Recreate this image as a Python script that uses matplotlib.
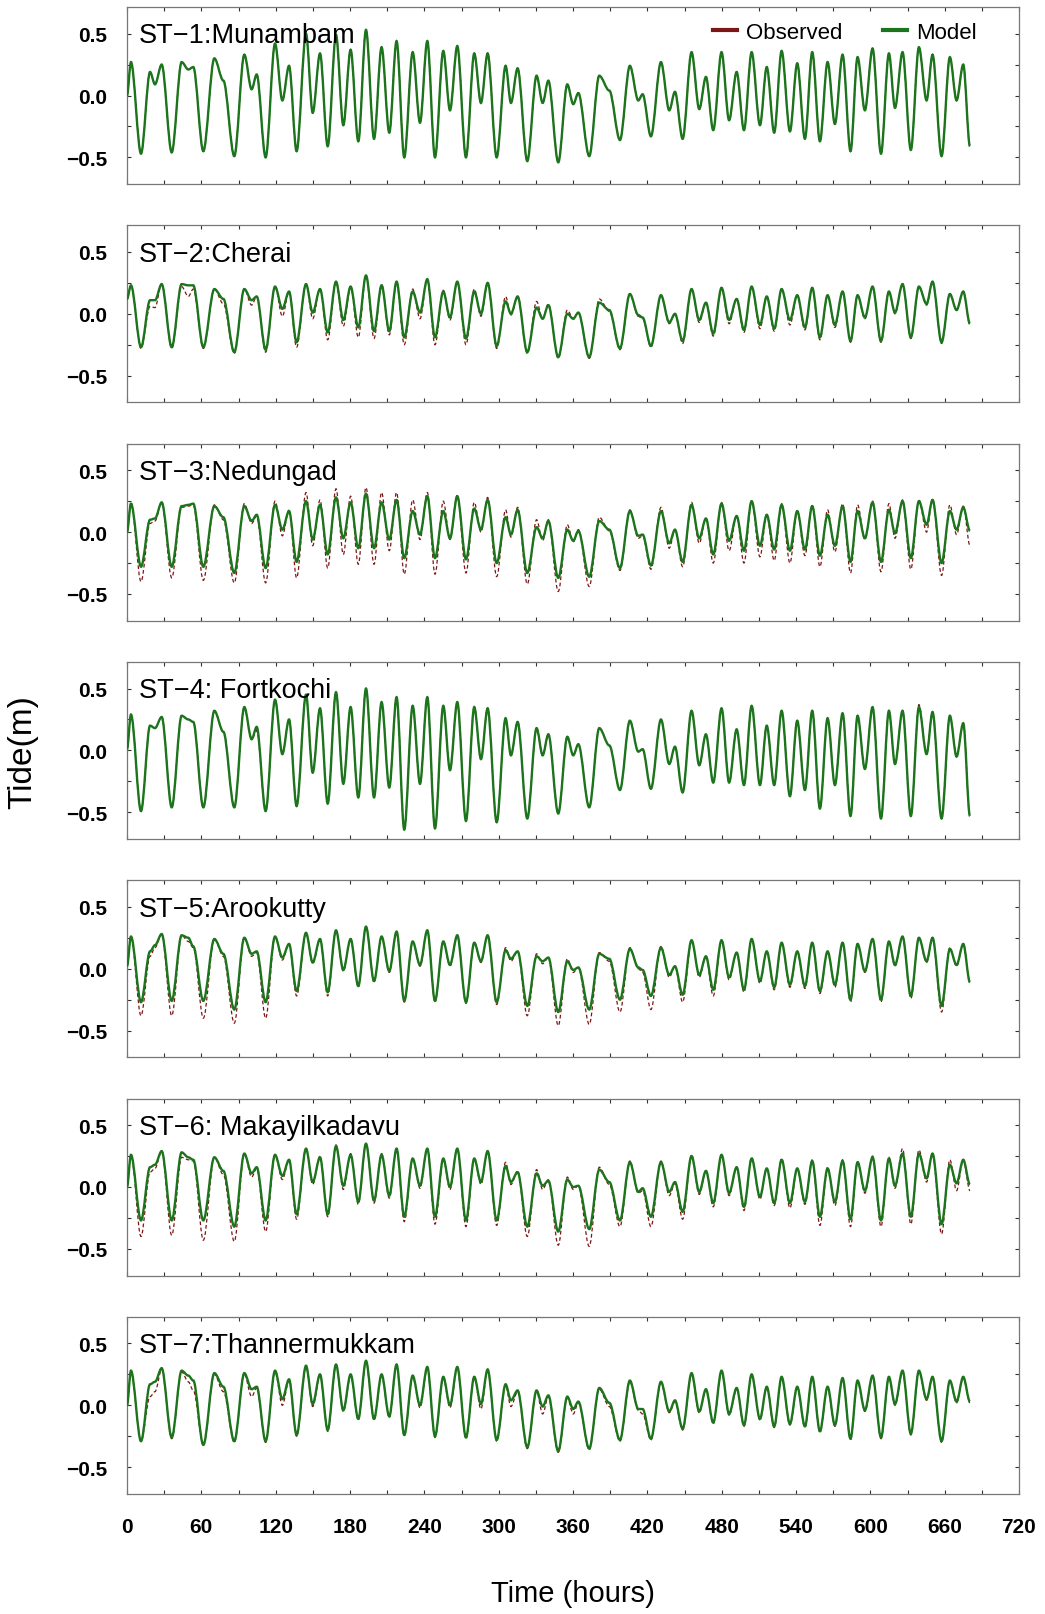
import matplotlib
matplotlib.use("Agg")
import matplotlib.pyplot as plt
from matplotlib.path import Path
from matplotlib.patches import PathPatch
from matplotlib.lines import Line2D
from matplotlib.ticker import MultipleLocator

plt.rcParams['font.family'] = ['Liberation Sans', 'DejaVu Sans']

# --- data: hours of the turning points of the tide curve (shared by all stations) ---
event_hours = [0.0, 3.2, 11.3, 18.6, 22.6, 28.0, 36.1, 44.1, 49.5, 53.5,
               61.6, 70.5, 77.8, 86.6, 94.7, 100.6, 104.7, 111.9, 119.5, 125.4,
               130.8, 136.9, 144.5, 149.9, 155.8, 162.0, 168.7, 174.6, 180.5, 186.7,
               192.9, 199.4, 205.5, 211.7, 217.6, 223.8, 230.6, 236.5, 242.4, 248.6,
               255.3, 260.7, 266.6, 273.6, 280.3, 285.7, 291.1, 298.4, 305.6, 309.9,
               315.3, 323.1, 330.6, 335.5, 340.1, 348.1, 355.4, 360.2, 364.3, 373.1,
               381.2, 389.3, 397.9, 405.9, 412.7, 416.2, 422.9, 431.0, 437.7, 442.3,
               448.5, 455.7, 461.9, 467.3, 473.2, 479.9, 486.0, 492.1, 498.0, 504.2,
               510.9, 516.4, 522.4, 528.4, 535.1, 541.0, 547.2, 553.1, 559.3, 565.5,
               571.4, 577.6, 584.0, 589.7, 595.6, 601.8, 608.6, 615.0, 619.9, 626.0,
               632.7, 639.2, 645.4, 650.2, 657.5, 664.2, 669.6, 675.0, 680.4]

stations = ["ST\u22121:Munambam", "ST\u22122:Cherai", "ST\u22123:Nedungad",
            "ST\u22124: Fortkochi", "ST\u22125:Arookutty", "ST\u22126: Makayilkadavu",
            "ST\u22127:Thannermukkam"]

st1_model = [0.00, 0.27, -0.47, 0.19, 0.09, 0.25, -0.46, 0.27, 0.21, 0.23,
             -0.45, 0.30, 0.12, -0.49, 0.33, 0.05, 0.17, -0.50, 0.42, -0.04,
             0.24, -0.45, 0.50, -0.14, 0.34, -0.41, 0.49, -0.24, 0.37, -0.37,
             0.53, -0.35, 0.39, -0.30, 0.44, -0.50, 0.35, -0.22, 0.44, -0.50,
             0.36, -0.12, 0.40, -0.50, 0.34, -0.06, 0.34, -0.50, 0.24, -0.06,
             0.22, -0.53, 0.16, -0.06, 0.12, -0.54, 0.09, -0.07, 0.02, -0.49,
             0.16, 0.04, -0.36, 0.24, -0.04, 0.01, -0.33, 0.27, -0.12, 0.03,
             -0.35, 0.35, -0.11, 0.15, -0.28, 0.35, -0.20, 0.19, -0.28, 0.35,
             -0.24, 0.23, -0.30, 0.36, -0.29, 0.26, -0.35, 0.35, -0.37, 0.27,
             -0.23, 0.33, -0.45, 0.31, -0.12, 0.38, -0.47, 0.34, -0.10, 0.35,
             -0.44, 0.39, -0.04, 0.33, -0.49, 0.31, -0.04, 0.25, -0.41]
st1_obs = list(st1_model)

st2_model = [0.12, 0.23, -0.27, 0.11, 0.11, 0.24, -0.27, 0.24, 0.23, 0.23,
             -0.27, 0.20, 0.12, -0.31, 0.20, 0.11, 0.14, -0.29, 0.22, 0.04,
             0.18, -0.23, 0.24, 0.01, 0.20, -0.15, 0.26, -0.05, 0.22, -0.11,
             0.31, -0.14, 0.23, -0.14, 0.26, -0.19, 0.18, 0.01, 0.28, -0.19,
             0.18, -0.03, 0.26, -0.20, 0.18, 0.00, 0.25, -0.26, 0.10, 0.00,
             0.14, -0.31, 0.05, -0.04, 0.07, -0.35, 0.00, -0.04, 0.01, -0.35,
             0.09, 0.03, -0.28, 0.16, -0.01, -0.03, -0.26, 0.15, -0.07, 0.00,
             -0.22, 0.20, -0.05, 0.09, -0.16, 0.21, -0.05, 0.12, -0.13, 0.22,
             -0.09, 0.14, -0.12, 0.20, -0.05, 0.15, -0.11, 0.21, -0.19, 0.15,
             -0.09, 0.18, -0.22, 0.15, -0.03, 0.22, -0.22, 0.18, 0.01, 0.24,
             -0.19, 0.22, 0.08, 0.26, -0.23, 0.16, 0.03, 0.18, -0.08]
st2_obs = [0.12, 0.23, -0.28, 0.06, 0.05, 0.24, -0.28, 0.22, 0.14, 0.20,
           -0.28, 0.20, 0.08, -0.32, 0.20, 0.07, 0.14, -0.31, 0.22, -0.02,
           0.18, -0.27, 0.24, -0.04, 0.20, -0.21, 0.26, -0.10, 0.22, -0.19,
           0.31, -0.20, 0.24, -0.17, 0.26, -0.25, 0.20, -0.04, 0.28, -0.25,
           0.19, -0.05, 0.26, -0.25, 0.20, -0.02, 0.25, -0.28, 0.14, -0.01,
           0.14, -0.32, 0.10, -0.04, 0.08, -0.36, 0.03, -0.04, 0.01, -0.36,
           0.12, 0.02, -0.29, 0.16, -0.02, -0.04, -0.27, 0.15, -0.08, 0.00,
           -0.24, 0.20, -0.07, 0.09, -0.18, 0.21, -0.08, 0.12, -0.15, 0.22,
           -0.12, 0.14, -0.14, 0.20, -0.09, 0.15, -0.13, 0.21, -0.21, 0.15,
           -0.11, 0.18, -0.23, 0.15, -0.04, 0.22, -0.23, 0.18, 0.00, 0.24,
           -0.20, 0.22, 0.07, 0.26, -0.24, 0.16, 0.03, 0.18, -0.09]

st3_model = [0.00, 0.23, -0.28, 0.10, 0.11, 0.24, -0.28, 0.21, 0.22, 0.23,
             -0.28, 0.21, 0.12, -0.33, 0.21, 0.09, 0.14, -0.29, 0.22, 0.02,
             0.17, -0.24, 0.25, -0.06, 0.22, -0.18, 0.28, -0.05, 0.24, -0.13,
             0.31, -0.13, 0.24, -0.06, 0.26, -0.21, 0.17, -0.02, 0.29, -0.21,
             0.17, -0.05, 0.29, -0.22, 0.19, 0.02, 0.26, -0.25, 0.12, -0.02,
             0.18, -0.33, 0.04, -0.05, 0.09, -0.37, 0.02, -0.07, 0.01, -0.36,
             0.09, 0.02, -0.29, 0.17, -0.03, -0.02, -0.27, 0.17, -0.09, 0.02,
             -0.24, 0.22, -0.05, 0.11, -0.18, 0.23, -0.07, 0.13, -0.15, 0.25,
             -0.11, 0.14, -0.14, 0.22, -0.15, 0.17, -0.14, 0.21, -0.19, 0.14,
             -0.11, 0.21, -0.24, 0.17, -0.05, 0.24, -0.24, 0.18, -0.01, 0.25,
             -0.21, 0.25, 0.06, 0.26, -0.25, 0.17, 0.02, 0.20, 0.01]
st3_obs = [0.00, 0.24, -0.40, 0.07, 0.09, 0.24, -0.37, 0.20, 0.21, 0.22,
           -0.39, 0.22, 0.10, -0.41, 0.23, 0.07, 0.13, -0.41, 0.25, -0.03,
           0.18, -0.37, 0.32, -0.11, 0.26, -0.29, 0.35, -0.18, 0.29, -0.26,
           0.36, -0.26, 0.32, -0.15, 0.32, -0.34, 0.26, -0.06, 0.32, -0.34,
           0.25, -0.06, 0.30, -0.33, 0.24, 0.00, 0.28, -0.36, 0.18, -0.04,
           0.20, -0.42, 0.10, -0.07, 0.10, -0.48, 0.06, -0.08, 0.02, -0.44,
           0.12, 0.01, -0.31, 0.18, -0.05, -0.03, -0.30, 0.20, -0.13, 0.02,
           -0.28, 0.24, -0.09, 0.11, -0.25, 0.24, -0.15, 0.13, -0.25, 0.25,
           -0.20, 0.14, -0.23, 0.23, -0.25, 0.17, -0.19, 0.22, -0.28, 0.18,
           -0.16, 0.23, -0.33, 0.22, -0.06, 0.25, -0.32, 0.23, -0.05, 0.26,
           -0.30, 0.26, 0.00, 0.27, -0.35, 0.22, -0.02, 0.21, -0.11]

st4_model = [0.01, 0.29, -0.49, 0.20, 0.18, 0.27, -0.46, 0.28, 0.25, 0.23,
             -0.46, 0.32, 0.15, -0.46, 0.35, 0.09, 0.19, -0.49, 0.41, -0.03,
             0.25, -0.45, 0.45, -0.18, 0.34, -0.43, 0.47, -0.27, 0.35, -0.38,
             0.50, -0.38, 0.39, -0.30, 0.43, -0.64, 0.36, -0.27, 0.43, -0.63,
             0.36, -0.16, 0.39, -0.57, 0.35, -0.07, 0.34, -0.58, 0.26, -0.04,
             0.23, -0.55, 0.18, -0.04, 0.13, -0.51, 0.11, -0.04, 0.05, -0.46,
             0.18, 0.04, -0.32, 0.24, -0.01, 0.01, -0.31, 0.25, -0.11, 0.03,
             -0.34, 0.32, -0.12, 0.13, -0.26, 0.34, -0.26, 0.17, -0.28, 0.36,
             -0.28, 0.20, -0.28, 0.32, -0.37, 0.24, -0.32, 0.32, -0.47, 0.26,
             -0.28, 0.30, -0.53, 0.28, -0.15, 0.35, -0.55, 0.32, -0.11, 0.32,
             -0.53, 0.35, -0.03, 0.31, -0.55, 0.28, -0.05, 0.22, -0.53]
st4_obs = list(st4_model)
st4_obs[16] = 0.16
st4_obs[101] = 0.37

st5_model = [0.02, 0.26, -0.27, 0.14, 0.19, 0.28, -0.26, 0.27, 0.25, 0.18,
             -0.26, 0.24, 0.12, -0.33, 0.25, 0.12, 0.14, -0.27, 0.26, 0.09,
             0.20, -0.18, 0.29, 0.05, 0.24, -0.19, 0.31, -0.01, 0.24, -0.14,
             0.34, -0.10, 0.26, -0.02, 0.30, -0.26, 0.22, 0.03, 0.31, -0.26,
             0.22, 0.03, 0.27, -0.27, 0.21, 0.06, 0.27, -0.27, 0.15, 0.08,
             0.14, -0.30, 0.10, 0.06, 0.09, -0.35, 0.06, -0.01, 0.01, -0.33,
             0.12, 0.08, -0.25, 0.16, 0.01, -0.01, -0.22, 0.17, -0.05, 0.02,
             -0.21, 0.23, -0.05, 0.10, -0.17, 0.23, -0.07, 0.13, -0.17, 0.24,
             -0.10, 0.14, -0.15, 0.21, -0.13, 0.14, -0.14, 0.21, -0.18, 0.14,
             -0.13, 0.21, -0.25, 0.20, -0.02, 0.24, -0.25, 0.22, 0.03, 0.26,
             -0.22, 0.25, 0.06, 0.25, -0.30, 0.16, 0.03, 0.20, -0.11]
st5_obs = [0.02, 0.26, -0.38, 0.10, 0.17, 0.28, -0.38, 0.27, 0.22, 0.17,
           -0.40, 0.24, 0.10, -0.44, 0.25, 0.10, 0.13, -0.40, 0.26, 0.07,
           0.20, -0.22, 0.29, 0.04, 0.24, -0.22, 0.31, -0.02, 0.24, -0.15,
           0.34, -0.11, 0.26, -0.03, 0.30, -0.27, 0.22, 0.02, 0.31, -0.27,
           0.22, 0.02, 0.27, -0.28, 0.21, 0.05, 0.27, -0.29, 0.17, 0.06,
           0.14, -0.38, 0.12, 0.04, 0.09, -0.46, 0.08, -0.03, 0.01, -0.45,
           0.13, 0.06, -0.35, 0.17, 0.00, -0.03, -0.33, 0.18, -0.07, 0.02,
           -0.27, 0.23, -0.07, 0.10, -0.22, 0.23, -0.09, 0.13, -0.19, 0.24,
           -0.12, 0.14, -0.17, 0.21, -0.15, 0.14, -0.16, 0.21, -0.20, 0.14,
           -0.15, 0.21, -0.27, 0.20, -0.03, 0.24, -0.27, 0.22, 0.02, 0.26,
           -0.24, 0.25, 0.05, 0.25, -0.35, 0.17, 0.02, 0.20, -0.10]

st6_model = [0.00, 0.26, -0.27, 0.16, 0.18, 0.29, -0.27, 0.28, 0.24, 0.22,
             -0.27, 0.24, 0.13, -0.32, 0.27, 0.11, 0.16, -0.27, 0.26, 0.09,
             0.22, -0.22, 0.31, 0.04, 0.24, -0.22, 0.33, 0.01, 0.26, -0.12,
             0.35, -0.11, 0.26, -0.07, 0.31, -0.24, 0.23, 0.01, 0.31, -0.24,
             0.23, 0.00, 0.31, -0.27, 0.23, 0.04, 0.29, -0.27, 0.17, 0.04,
             0.12, -0.32, 0.11, 0.01, 0.05, -0.36, 0.06, 0.00, 0.01, -0.34,
             0.14, 0.04, -0.27, 0.20, -0.04, -0.01, -0.24, 0.20, -0.04, 0.04,
             -0.20, 0.25, -0.04, 0.13, -0.13, 0.26, -0.05, 0.16, -0.16, 0.23,
             -0.08, 0.15, -0.13, 0.22, -0.13, 0.15, -0.12, 0.21, -0.24, 0.15,
             -0.12, 0.21, -0.26, 0.20, -0.03, 0.24, -0.27, 0.23, 0.01, 0.27,
             -0.24, 0.27, 0.07, 0.27, -0.30, 0.18, 0.03, 0.22, 0.02]
st6_obs = [0.00, 0.26, -0.40, 0.12, 0.15, 0.29, -0.39, 0.24, 0.22, 0.21,
           -0.43, 0.24, 0.10, -0.44, 0.27, 0.08, 0.15, -0.36, 0.26, 0.06,
           0.22, -0.26, 0.31, 0.02, 0.25, -0.24, 0.34, -0.02, 0.27, -0.14,
           0.35, -0.13, 0.27, -0.09, 0.31, -0.28, 0.23, -0.01, 0.31, -0.30,
           0.23, -0.02, 0.31, -0.32, 0.23, 0.02, 0.29, -0.31, 0.20, 0.02,
           0.13, -0.40, 0.14, -0.02, 0.06, -0.47, 0.08, -0.02, 0.01, -0.48,
           0.16, 0.02, -0.32, 0.21, -0.05, -0.03, -0.32, 0.21, -0.07, 0.03,
           -0.26, 0.26, -0.06, 0.13, -0.16, 0.26, -0.07, 0.16, -0.19, 0.24,
           -0.10, 0.15, -0.15, 0.23, -0.17, 0.15, -0.14, 0.22, -0.31, 0.16,
           -0.15, 0.22, -0.32, 0.21, -0.05, 0.25, -0.32, 0.24, -0.01, 0.31,
           -0.30, 0.30, 0.04, 0.27, -0.38, 0.22, -0.03, 0.22, -0.03]

st7_model = [0.00, 0.28, -0.29, 0.17, 0.19, 0.30, -0.26, 0.28, 0.24, 0.20,
             -0.32, 0.26, 0.15, -0.29, 0.26, 0.13, 0.15, -0.29, 0.28, 0.05,
             0.21, -0.24, 0.32, 0.01, 0.25, -0.20, 0.33, -0.04, 0.25, -0.11,
             0.36, -0.11, 0.25, -0.09, 0.33, -0.24, 0.24, 0.00, 0.31, -0.25,
             0.23, 0.00, 0.31, -0.26, 0.23, 0.01, 0.29, -0.28, 0.17, 0.04,
             0.12, -0.34, 0.12, -0.01, 0.08, -0.37, 0.07, -0.03, 0.03, -0.35,
             0.14, 0.02, -0.28, 0.20, -0.03, -0.03, -0.27, 0.19, -0.05, 0.04,
             -0.19, 0.26, -0.05, 0.13, -0.14, 0.28, -0.07, 0.14, -0.16, 0.25,
             -0.11, 0.15, -0.17, 0.23, -0.15, 0.15, -0.17, 0.23, -0.21, 0.15,
             -0.16, 0.22, -0.27, 0.20, -0.04, 0.24, -0.26, 0.23, 0.01, 0.28,
             -0.23, 0.28, 0.05, 0.23, -0.29, 0.20, 0.03, 0.23, 0.03]
st7_obs = [0.00, 0.27, -0.29, 0.07, 0.11, 0.29, -0.27, 0.27, 0.19, 0.12,
           -0.32, 0.25, 0.11, -0.30, 0.25, 0.07, 0.14, -0.30, 0.27, 0.00,
           0.20, -0.25, 0.31, -0.01, 0.24, -0.21, 0.32, -0.05, 0.24, -0.12,
           0.35, -0.12, 0.24, -0.10, 0.32, -0.25, 0.23, -0.02, 0.30, -0.26,
           0.22, -0.02, 0.30, -0.27, 0.22, -0.03, 0.28, -0.29, 0.16, -0.01,
           0.11, -0.35, 0.11, -0.07, 0.07, -0.38, 0.06, -0.07, 0.02, -0.36,
           0.13, -0.01, -0.29, 0.19, -0.04, -0.07, -0.28, 0.18, -0.06, 0.03,
           -0.20, 0.25, -0.06, 0.12, -0.15, 0.27, -0.08, 0.13, -0.17, 0.24,
           -0.12, 0.14, -0.18, 0.22, -0.16, 0.14, -0.18, 0.22, -0.22, 0.14,
           -0.17, 0.21, -0.28, 0.19, -0.05, 0.23, -0.27, 0.22, 0.00, 0.27,
           -0.24, 0.27, 0.04, 0.22, -0.30, 0.19, 0.02, 0.22, 0.02]

model_series = [st1_model, st2_model, st3_model, st4_model, st5_model, st6_model, st7_model]
obs_series = [st1_obs, st2_obs, st3_obs, st4_obs, st5_obs, st6_obs, st7_obs]

x_ticks = [0, 60, 120, 180, 240, 300, 360, 420, 480, 540, 600, 660, 720]
y_ticks = [-0.5, 0.0, 0.5]
y_ticklabels = ["\u22120.5", "0.0", "0.5"]

model_color = '#1c741c'
obs_color = '#7d1616'


def tide_path(hours, values):
    # smooth curve through the turning points (flat tangent at each one)
    verts = [(hours[0], values[0])]
    codes = [Path.MOVETO]
    for i in range(len(hours) - 1):
        d = (hours[i + 1] - hours[i]) / 3.0
        verts += [(hours[i] + d, values[i]), (hours[i + 1] - d, values[i + 1]),
                  (hours[i + 1], values[i + 1])]
        codes += [Path.CURVE4] * 3
    return Path(verts, codes)


W, H = 1045, 1615
fig = plt.figure(figsize=(W / 100, H / 100), dpi=100)

left, width = 127 / W, 892 / W
ax_h = 177
axes = []
for i in range(7):
    top = 8 + 218.3 * i
    ax = fig.add_axes([left, 1 - (top + ax_h) / H, width, ax_h / H])
    axes.append(ax)

    ax.add_patch(PathPatch(tide_path(event_hours, obs_series[i]), fill=False,
                           edgecolor=obs_color, lw=0.9, linestyle=(0, (3, 2)), zorder=2))
    ax.add_patch(PathPatch(tide_path(event_hours, model_series[i]), fill=False,
                           edgecolor=model_color, lw=1.7, zorder=3))

    ax.set_xlim(0, 720)
    ax.set_ylim(-0.715, 0.715)
    ax.set_xticks(x_ticks)
    ax.xaxis.set_minor_locator(MultipleLocator(30))
    ax.set_yticks(y_ticks)
    ax.set_yticklabels(y_ticklabels, fontsize=15, fontweight='bold')
    ax.yaxis.set_minor_locator(MultipleLocator(0.25))
    ax.tick_params(which='both', direction='in', top=True, right=True, length=3,
                   width=0.8, color='#333333')
    ax.tick_params(axis='y', pad=14)
    if i < 6:
        ax.tick_params(axis='x', labelbottom=False)
    else:
        ax.set_xticklabels([str(t) for t in x_ticks], fontsize=15, fontweight='bold')
        ax.tick_params(axis='x', pad=17)
    for sp in ax.spines.values():
        sp.set_color('#777777')
        sp.set_linewidth(0.9)

    ax.text(0.013, 0.84, stations[i], transform=ax.transAxes, fontsize=19.5,
            ha='left', va='center', zorder=5)

handles = [Line2D([], [], color=obs_color, lw=3), Line2D([], [], color=model_color, lw=3)]
axes[0].legend(handles, ["Observed", "Model"], loc='upper right', ncol=2, frameon=False,
               bbox_to_anchor=(0.975, 1.03), handlelength=1.1, handletextpad=0.4,
               columnspacing=1.8, fontsize=16)

fig.text(23 / W, 1 - 752 / H, "Tide(m)", rotation=90, ha='center', va='center', fontsize=24)
fig.text(573 / W, 1 - 1594 / H, "Time (hours)", ha='center', va='center', fontsize=21)

fig.savefig("out.png", dpi=100)
